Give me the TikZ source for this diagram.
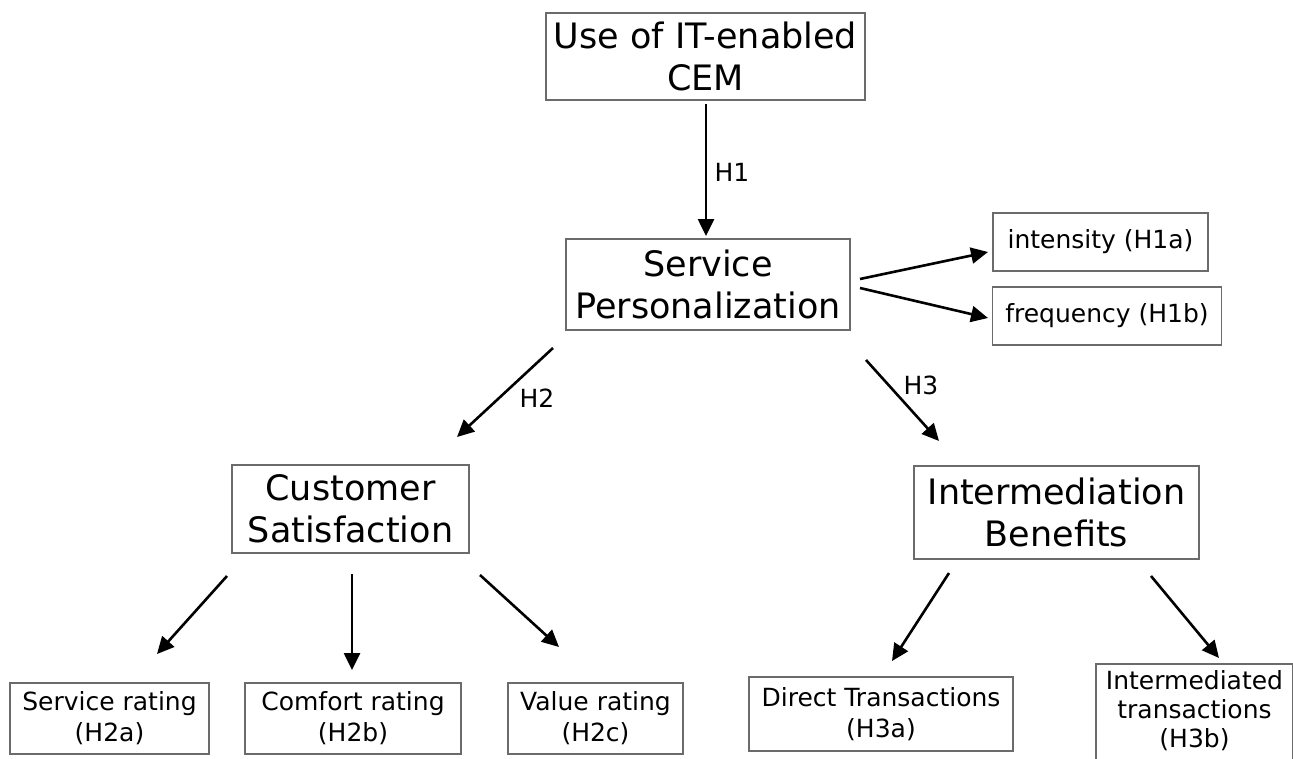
\documentclass[tikz,border=0pt]{standalone}
\usepackage{fontspec}
\setmainfont{DejaVu Sans}
\usetikzlibrary{arrows.meta}
\tikzset{
  boxline/.style={draw=black!58, line width=1.8pt},
  box/.style={boxline, fill=white, inner sep=0pt, align=center},
  bigbox/.style={box, font=\fontsize{35}{42}\selectfont},
  smallbox/.style={box, font=\fontsize{25}{31}\selectfont},
  arr/.style={line width=2.6pt, -{Triangle[length=17pt,width=16pt]}},
  hlabel/.style={font=\fontsize{25}{30}\selectfont, inner sep=0pt},
}
\begin{document}
\begin{tikzpicture}[x=1pt,y=-1pt]
\useasboundingbox[fill=white] (0,0) rectangle (1293,758);

% constructs
\node[bigbox, minimum width=319pt, minimum height=87pt] (cem) at (705.5,56.5) {Use of IT-enabled\\CEM};
\node[bigbox, minimum width=284pt, minimum height=91pt] (sp) at (708,284.5) {Service\\Personalization};
\node[smallbox, minimum width=215pt, minimum height=58pt] (int) at (1100.5,242) {intensity (H1a)};
\node[smallbox, minimum width=229pt, minimum height=58pt] (freq) at (1107,316) {frequency (H1b)};
\node[bigbox, minimum width=237pt, minimum height=88pt] (cs) at (350.5,509) {Customer\\Satisfaction};
\node[bigbox, minimum width=285pt, minimum height=93pt] (ib) at (1056.5,512.5) {Intermediation\\Benefits};

% measures
\node[smallbox, minimum width=199pt, minimum height=71pt] (sr) at (109.5,718.5) {Service rating\\(H2a)};
\node[smallbox, minimum width=216pt, minimum height=71pt] (cr) at (353,718.5) {Comfort rating\\(H2b)};
\node[smallbox, minimum width=175pt, minimum height=71pt] (vr) at (595.5,718.5) {Value rating\\(H2c)};
\node[smallbox, minimum width=264pt, minimum height=74pt] (dt) at (881,714) {Direct Transactions\\(H3a)};
% this box runs past the lower edge of the page
\node[smallbox, draw=none, fill=none, font=\fontsize{25}{29}\selectfont, anchor=north,
  minimum width=195pt, inner ysep=6pt] (it) at (1194.5,664) {Intermediated\\transactions\\(H3b)};
\draw[boxline] ([yshift=-30pt]it.south west) rectangle (it.north east);

% arrow end points
\coordinate (a1s) at (706,104);  \coordinate (a1e) at (706,236);
\coordinate (p1s) at (860,279);  \coordinate (p1e) at (988,252);
\coordinate (p2s) at (860,288);  \coordinate (p2e) at (988,318);
\coordinate (h2s) at (553,348);  \coordinate (h2e) at (457,437);
\coordinate (h3s) at (866,360);  \coordinate (h3e) at (939,441);
\coordinate (c1s) at (227,576);  \coordinate (c1e) at (157,654);
\coordinate (c2s) at (352,574);  \coordinate (c2e) at (352,670);
\coordinate (c3s) at (480,575);  \coordinate (c3e) at (559,647);
\coordinate (i1s) at (949,573);  \coordinate (i1e) at (892,661);
\coordinate (i2s) at (1151,576); \coordinate (i2e) at (1219,658);

% hypotheses
\draw[arr] (a1s) -- (a1e);
\draw[arr] (p1s) -- (p1e);
\draw[arr] (p2s) -- (p2e);
\draw[arr] (h2s) -- (h2e);
\draw[arr] (h3s) -- (h3e);
\draw[arr] (c1s) -- (c1e);
\draw[arr] (c2s) -- (c2e);
\draw[arr] (c3s) -- (c3e);
\draw[arr] (i1s) -- (i1e);
\draw[arr] (i2s) -- (i2e);

\node[hlabel] (lh1) at (732,172) {H1};
\node[hlabel] (lh2) at (537,398) {H2};
\node[hlabel] (lh3) at (921,385) {H3};
\end{tikzpicture}
\end{document}
